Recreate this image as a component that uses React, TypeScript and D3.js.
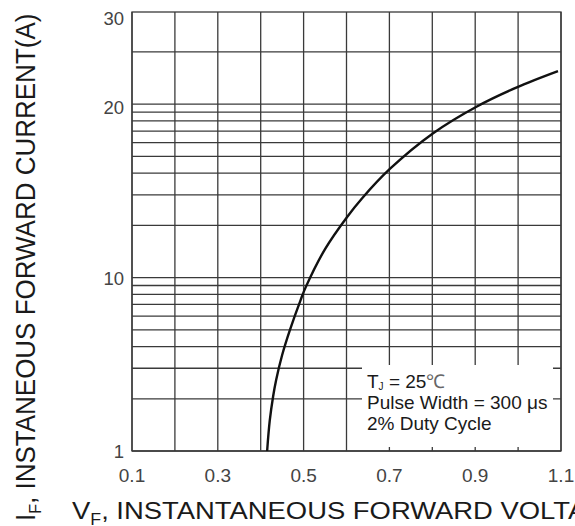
import React, { useEffect, useRef } from 'react';
import * as d3 from 'd3';

// forward voltage (V) vs forward current (A)
const voltage = [0.415, 0.421, 0.429, 0.436, 0.45, 0.468, 0.493, 0.505, 0.55, 0.601, 0.636, 0.701, 0.802, 0.904, 0.997, 1.093];
const current = [1.0, 1.49, 2.07, 2.57, 3.58, 4.98, 7.42, 8.81, 14.6, 22.3, 28.6, 42.3, 68, 97, 125, 155];

const xTicks = [0.1, 0.3, 0.5, 0.7, 0.9, 1.1];
const xGrid = [0.1, 0.2, 0.3, 0.4, 0.5, 0.6, 0.7, 0.8, 0.9, 1.0, 1.1];
// the sheet labels its log decades oddly; keep its printed labels
const yTickValues = [1, 10, 100, 300];
const yTickLabels = ['1', '10', '20', '30'];
const yGrid = [1, 2, 3, 4, 5, 6, 7, 8, 9, 10, 20, 30, 40, 50, 60, 70, 80, 90, 100, 200];
const legendLines = ['Pulse Width = 300 μs', '2% Duty Cycle'];

const FONT = '"Liberation Sans", Arial, Helvetica, sans-serif';

const App = () => {
  const svgRef = useRef<SVGSVGElement>(null);

  useEffect(() => {
    const svg = d3.select(svgRef.current);
    svg.selectAll('*').remove();

    const left = 132, right = 561, top = 12, bottom = 451;
    const x = d3.scaleLinear().domain([0.1, 1.1]).range([left, right]);
    const y = d3.scaleLog().domain([1, 340]).range([bottom, top]);

    const grid = svg.append('g').attr('stroke', '#3a3a3a').attr('stroke-width', 1.3);
    grid.selectAll('.hg')
      .data(yGrid)
      .enter()
      .append('line')
      .attr('x1', left).attr('x2', right)
      .attr('y1', d => y(d)).attr('y2', d => y(d));
    grid.selectAll('.vg')
      .data(xGrid)
      .enter()
      .append('line')
      .attr('x1', d => x(d)).attr('x2', d => x(d))
      .attr('y1', top).attr('y2', bottom);
    grid.append('rect')
      .attr('x', left).attr('y', top)
      .attr('width', right - left).attr('height', bottom - top)
      .attr('fill', 'none');

    // legend box covers the grid
    const lx = 362, ly = 365;
    svg.append('rect')
      .attr('x', lx).attr('y', ly)
      .attr('width', 191).attr('height', 82)
      .attr('fill', '#fff');

    const line = d3.line<number>()
      .x((d, i) => x(voltage[i]))
      .y(d => y(d))
      .curve(d3.curveCatmullRom.alpha(0.5));
    svg.append('path')
      .attr('d', line(current))
      .attr('fill', 'none')
      .attr('stroke', '#111')
      .attr('stroke-width', 2.4);

    const leg = svg.append('g')
      .attr('font-family', FONT)
      .attr('font-size', 19)
      .attr('fill', '#1a1a1a');
    const t1 = leg.append('text').attr('x', 367).attr('y', 388);
    t1.append('tspan').text('T');
    t1.append('tspan').attr('font-size', 10).attr('dy', 2).text('J');
    t1.append('tspan').attr('dy', -2).text(' = 25');
    t1.append('tspan').attr('fill', '#666').attr('font-weight', 300).text('℃');
    leg.selectAll('.ll')
      .data(legendLines)
      .enter()
      .append('text')
      .attr('x', 367)
      .attr('y', (d, i) => 409 + i * 21)
      .text(d => d);

    // tick labels
    svg.append('g')
      .attr('font-family', FONT)
      .attr('font-size', 19)
      .attr('fill', '#444')
      .attr('text-anchor', 'middle')
      .selectAll('text')
      .data(xTicks)
      .enter()
      .append('text')
      .attr('x', d => x(d))
      .attr('y', 482)
      .text(d => d3.format('.1f')(d));

    svg.append('g')
      .attr('font-family', FONT)
      .attr('font-size', 18.5)
      .attr('fill', '#444')
      .attr('text-anchor', 'end')
      .selectAll('text')
      .data(yTickValues)
      .enter()
      .append('text')
      .attr('x', 124)
      .attr('y', d => y(d) + 7 + (d === 100 ? 3 : d === 300 ? -3 : 0))
      .text((d, i) => yTickLabels[i]);

    // axis titles
    const xt = svg.append('text')
      .attr('transform', 'translate(72,519) scale(1.11,1)')
      .attr('font-family', FONT)
      .attr('font-size', 24.7)
      .attr('fill', '#1a1a1a');
    xt.append('tspan').text('V');
    xt.append('tspan').attr('font-size', 16).attr('dy', 6).text('F');
    xt.append('tspan').attr('dy', -6).text(', INSTANTANEOUS FORWARD VOLTAGE(V)');

    const yt = svg.append('text')
      .attr('transform', 'translate(35,521) scale(1.08,1) rotate(-90)')
      .attr('font-family', FONT)
      .attr('font-size', 26)
      .attr('fill', '#1a1a1a');
    yt.append('tspan').text('I');
    yt.append('tspan').attr('font-size', 16).attr('dy', 6).text('F');
    yt.append('tspan').attr('dy', -6).text(', INSTANEOUS FORWARD CURRENT(A)');
  }, []);

  return (
    <svg
      ref={svgRef}
      width={575}
      height={526}
      style={{ position: 'absolute', left: 0, top: 0, background: '#fff' }}
    />
  );
};

export default App;
